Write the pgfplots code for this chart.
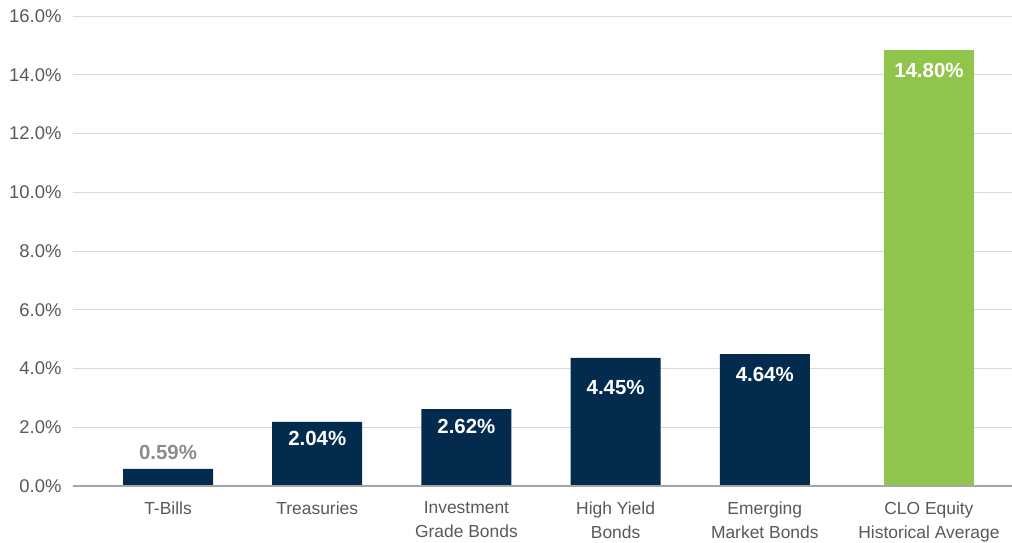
\documentclass[border=0pt]{standalone}
\usepackage{fontspec}
\setmainfont{Liberation Sans}
\usepackage{pgfplots}
\pgfplotsset{compat=1.18}
\usepackage{pgfplotstable}

\definecolor{navy}{HTML}{022B4D}
\definecolor{clogreen}{HTML}{8FC54A}
\definecolor{ticktext}{HTML}{595959}
\definecolor{gridgray}{HTML}{D9D9D9}
\definecolor{axisgray}{HTML}{A6A6A6}
\definecolor{labgray}{HTML}{8C8C8C}

% bar heights as drawn
\pgfplotstableread{
x h
0 0.58
1 2.18
2 2.62
3 4.36
4 4.49
}\bonds
\pgfplotstableread{
x h
5.1 14.84
}\clo
% printed values, placed where the labels sit
\pgfplotstableread{
x y v
1 1.63 2.04
2 2.01 2.62
3 3.37 4.45
4 3.78 4.64
5.1 14.13 14.80
}\inlabels
\pgfplotstableread{
x y v
0 1.14 0.59
}\outlabels

\begin{document}
\begin{tikzpicture}
\begin{axis}[
  scale only axis,
  width=939bp, height=470bp,
  xmin=-0.637, xmax=5.657,
  ymin=0, ymax=16,
  ytick={0,2,...,16},
  xtick={0,1,2,3,4,5.1},
  xticklabels={T-Bills,Treasuries,{Investment\\Grade Bonds},{High Yield\\Bonds},{Emerging\\Market Bonds},{CLO Equity\\Historical Average}},
  major tick length=0,
  axis line style={draw=none},
  ymajorgrids, grid style={gridgray, line width=0.8pt},
  /pgf/number format/assume math mode=true,
  yticklabel={\pgfmathprintnumber[fixed,fixed zerofill,precision=1]{\tick}\%},
  yticklabel style={font=\fontsize{18.5}{20}\selectfont, text=ticktext, xshift=-8bp},
  xticklabel style={font=\fontsize{17.5}{24}\selectfont, text=ticktext, align=center, yshift=-12bp},
  clip=false,
]
\addplot[ybar, bar width=90bp, fill=navy, draw=none] table[x=x, y=h] {\bonds};
\addplot[ybar, bar width=90bp, fill=clogreen, draw=none] table[x=x, y=h] {\clo};
\draw[axisgray, line width=1.4pt] (axis cs:-0.637,0) -- (axis cs:5.657,0);
\addplot[only marks, mark=none, point meta=explicit,
  nodes near coords={\pgfmathprintnumber[fixed,fixed zerofill,precision=2]{\pgfplotspointmeta}\%},
  every node near coord/.append style={anchor=center, font=\bfseries\fontsize{20.5}{22}\selectfont, text=white}]
  table[x=x, y=y, meta=v] {\inlabels};
\addplot[only marks, mark=none, point meta=explicit,
  nodes near coords={\pgfmathprintnumber[fixed,fixed zerofill,precision=2]{\pgfplotspointmeta}\%},
  every node near coord/.append style={anchor=center, font=\bfseries\fontsize{20.5}{22}\selectfont, text=labgray}]
  table[x=x, y=y, meta=v] {\outlabels};
\end{axis}
\pgfresetboundingbox
\path[use as bounding box] ([shift={(-73bp,-57bp)}]current axis.south west) rectangle ([shift={(0bp,16bp)}]current axis.north east);
\end{tikzpicture}
\end{document}
